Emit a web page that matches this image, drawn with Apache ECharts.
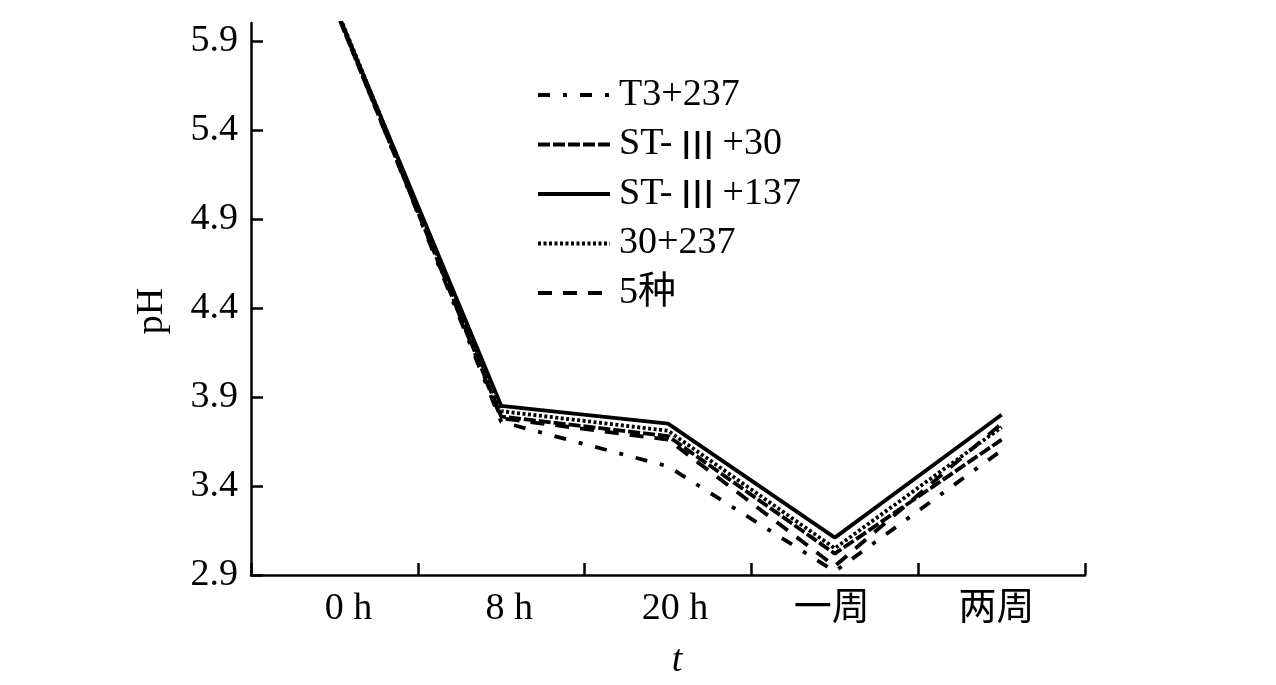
<!DOCTYPE html>
<html>
<head>
<meta charset="utf-8">
<script src="https://cdn.jsdelivr.net/npm/echarts@6/dist/echarts.min.js"></script>
<style>
html,body{margin:0;padding:0;background:#fff;}
#chart{width:1276px;height:685px;}
</style>
</head>
<body>
<div id="chart"></div>
<script>
const categories = ['0 h', '8 h', '20 h', '一周', '两周'];
const seriesNames = ['T3+237', 'ST-Ⅲ+30', 'ST-Ⅲ+137', '30+237', '5种'];
const t3_237 = [6.10, 3.76, 3.51, 2.92, 3.60];
const st3_30 = [6.09, 3.79, 3.68, 3.02, 3.66];
const st3_137 = [6.10, 3.85, 3.75, 3.11, 3.80];
const s30_237 = [6.11, 3.82, 3.71, 3.05, 3.73];
const five = [6.10, 3.78, 3.66, 2.95, 3.75];
const yTicks = [2.9, 3.4, 3.9, 4.4, 4.9, 5.4, 5.9];

const FONT = '"Liberation Serif", "Times New Roman", "Noto Sans CJK SC", serif';
const CJK = '"Noto Sans CJK SC", sans-serif';
const dashes = [[12, 13, 4, 13], [12, 3], 'solid', [3, 2.5], [14, 11]];
const seriesData = [t3_237, st3_30, st3_137, s30_237, five];
const labelShift = {'0 h': 14, '8 h': 8, '20 h': 7, '一周': -3, '两周': -5};

const chart = echarts.init(document.getElementById('chart'), null, {renderer: 'canvas'});
const rich = {};
categories.forEach((c, i) => {
  const s = labelShift[c] || 0;
  rich['l' + i] = {
    fontFamily: FONT, fontSize: 38, color: '#000',
    padding: s >= 0 ? [0, 0, 0, 2 * s] : [0, -2 * s, 0, 0]
  };
});

chart.setOption({
  animation: false,
  backgroundColor: '#fff',
  grid: {left: 251, right: 191, top: 23, bottom: 109, containLabel: false},
  legend: {
    orient: 'vertical',
    left: 531,
    top: 70,
    itemWidth: 72,
    itemHeight: 14,
    itemGap: 9.5,
    itemStyle: {color: 'rgba(0,0,0,0)', borderWidth: 0, opacity: 0},
    lineStyle: {width: 4},
    formatter: (n) => n.replace('Ⅲ', '{r|Ⅲ}'),
    textStyle: {
      fontFamily: FONT, fontSize: 38, color: '#000', lineHeight: 40, padding: [0, 0, 0, 4],
      rich: {r: {fontFamily: CJK, fontSize: 38, color: '#000', lineHeight: 40, padding: [0, 6, 0, 6]}}
    },
    data: seriesNames
  },
  xAxis: {
    type: 'category',
    data: categories,
    boundaryGap: true,
    name: 't',
    nameLocation: 'middle',
    nameGap: 67,
    nameTextStyle: {fontFamily: FONT, fontSize: 38, fontStyle: 'italic', color: '#000', padding: [0, 0, 0, 18]},
    axisLine: {lineStyle: {color: '#000', width: 2.5}},
    axisTick: {show: true, inside: true, length: 12, lineStyle: {color: '#000', width: 2.5}},
    axisLabel: {
      margin: 15,
      formatter: (v) => '{l' + categories.indexOf(v) + '|' + v + '}',
      rich: rich
    },
    splitLine: {show: false}
  },
  yAxis: {
    type: 'value',
    min: 2.9,
    max: 6.0,
    name: 'pH',
    nameLocation: 'middle',
    nameGap: 80,
    nameTextStyle: {fontFamily: FONT, fontSize: 38, color: '#000', padding: [0, 24, 0, 0]},
    axisLine: {show: true, lineStyle: {color: '#000', width: 2.5}},
    axisTick: {show: true, inside: true, length: 12, customValues: yTicks, lineStyle: {color: '#000', width: 2.5}},
    axisLabel: {
      margin: 13,
      customValues: yTicks,
      formatter: (v) => v.toFixed(1),
      fontFamily: FONT, fontSize: 38, color: '#000'
    },
    splitLine: {show: false}
  },
  series: seriesNames.map((n, i) => ({
    name: n,
    type: 'line',
    data: seriesData[i],
    symbol: 'none',
    clip: true,
    lineStyle: {color: '#000', width: 3.8, type: dashes[i]},
    itemStyle: {color: '#000'}
  }))
});
</script>
</body>
</html>
